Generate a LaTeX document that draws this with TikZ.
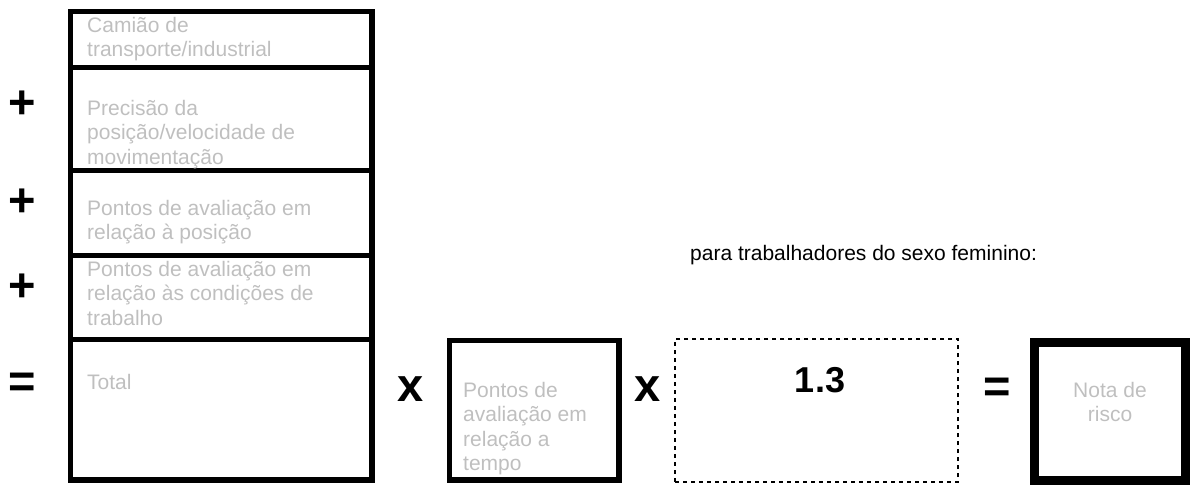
\documentclass[tikz,border=0pt]{standalone}
\usepackage{fontspec}
\setmainfont{Liberation Sans}
\newcommand{\leftlines}[1]{\begin{tabular}[t]{@{}l@{}}#1\end{tabular}}
\newcommand{\midlines}[1]{\begin{tabular}[t]{@{}c@{}}#1\end{tabular}}
\tikzset{
	field/.style={draw=black, line width=5.5pt, inner sep=0pt},
	hint/.style={text=black!25, anchor=base west, inner sep=0pt, font=\fontsize{21}{24.5}\selectfont},
	op/.style={inner sep=0pt, font=\fontsize{47}{47}\selectfont\bfseries},
}

\begin{document}
\begin{tikzpicture}[x=1pt, y=-1pt]
				\useasboundingbox (0,0) rectangle (1190,485);
				% stacked fields on the left
				\node[field, minimum width=301.5pt, minimum height=56pt] (truck) at (221.25,39.5) {};
				\node[field, minimum width=301.5pt, minimum height=103pt] (speed) at (221.25,119) {};
				\node[field, minimum width=301.5pt, minimum height=85pt] (posture) at (221.25,213) {};
				\node[field, minimum width=301.5pt, minimum height=84pt] (conditions) at (221.25,297.5) {};
				\node[field, minimum width=301.5pt, minimum height=140.5pt] (total) at (221.25,409.75) {};
				\node[hint] (truckText) at (87,32) {\leftlines{Camião de\\transporte/industrial}};
				\node[hint] (speedText) at (87,115) {\leftlines{Precisão da\\posição/velocidade de\\movimentação}};
				\node[hint] (postureText) at (87,215) {\leftlines{Pontos de avaliação em\\relação à posição}};
				\node[hint] (conditionsText) at (87,276) {\leftlines{Pontos de avaliação em\\relação às condições de\\trabalho}};
				\node[hint] (totalText) at (87,389) {Total};
				\node[op] (plusA) at (22,105) {+};
				\node[op] (plusB) at (22,203) {+};
				\node[op] (plusC) at (22,288) {+};
				\node[op] (equalsA) at (22,385) {=};
				% bottom row
				\node[op] (timesA) at (411,389) {x};
				\node[field, minimum width=169.5pt, minimum height=139.5pt] (time) at (534.25,410.25) {};
				\node[hint] (timeText) at (463,397) {\leftlines{Pontos de\\avaliação em\\relação a\\tempo}};
				\node[op] (timesB) at (648,389) {x};
				\node[draw=black, line width=2pt, dash pattern=on 4pt off 4pt, inner sep=0pt,
					minimum width=283pt, minimum height=143pt] (female) at (816.5,410.5) {};
				\node[anchor=base, inner sep=0pt, font=\fontsize{36}{36}\selectfont\bfseries] (factor) at (820,392) {1.3};
				\node[anchor=base west, inner sep=0pt, font=\fontsize{21}{24.5}\selectfont] (femaleNote) at (690,260) {para trabalhadores do sexo feminino:};
				\node[op] (equalsB) at (997,390) {=};
				\node[draw=black, line width=9pt, inner sep=0pt, minimum width=151pt, minimum height=138.5pt] (risk) at (1110,411.25) {};
				\node[hint, anchor=base] (riskText) at (1110,397) {\midlines{Nota de\\risco}};
\end{tikzpicture}
\end{document}
